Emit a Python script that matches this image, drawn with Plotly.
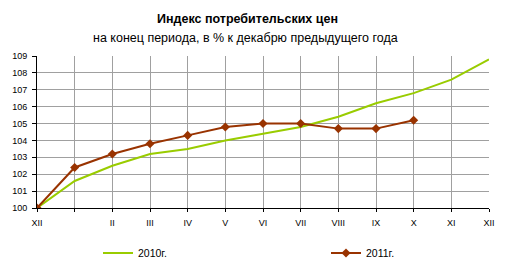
import plotly.graph_objects as go

months = ["XII", "", "II", "III", "IV", "V", "VI", "VII", "VIII", "IX", "X", "XI", "XII"]
cpi_2010 = [100, 101.6, 102.5, 103.2, 103.5, 104.0, 104.4, 104.8, 105.4, 106.2, 106.8, 107.6, 108.8]
cpi_2011 = [100, 102.4, 103.2, 103.8, 104.3, 104.8, 105.0, 105.0, 104.7, 104.7, 105.2]

xs = list(range(len(months)))

W, H = 506, 270
ML, MR, MT, MB = 37, 17, 56, 62
PW, PH = W - ML - MR, H - MT - MB

def px_x(p):
    return (p - ML) / PW

def px_y(p):
    return (H - MB - p) / PH

fig = go.Figure()
fig.add_trace(go.Scatter(x=xs[:len(cpi_2010)], y=cpi_2010, mode="lines", name="2010г.",
                         line=dict(color="#99CC00", width=2), legend="legend"))
fig.add_trace(go.Scatter(x=xs[:len(cpi_2011)], y=cpi_2011, mode="lines+markers", name="2011г.",
                         line=dict(color="#993300", width=2),
                         marker=dict(symbol="diamond", size=7, color="#993300"), legend="legend2"))

leg_common = dict(yanchor="middle", xanchor="left", font=dict(size=10.5), itemwidth=30,
                  bgcolor="rgba(0,0,0,0)")
fig.update_layout(
    width=W, height=H,
    margin=dict(l=ML, r=MR, t=MT, b=MB, autoexpand=False),
    paper_bgcolor="white", plot_bgcolor="white",
    font=dict(family="Liberation Sans, Arial, sans-serif", size=9, color="black"),
    showlegend=True,
    legend=dict(x=px_x(98), y=px_y(253), **leg_common),
    legend2=dict(x=px_x(326), y=px_y(253), **leg_common),
    annotations=[
        dict(text="<b>Индекс потребительских цен</b>", x=px_x(247), y=px_y(19), xref="paper",
             yref="paper", showarrow=False, yanchor="middle", font=dict(size=12.5)),
        dict(text="на конец периода, в % к декабрю предыдущего года", x=px_x(245), y=px_y(38),
             xref="paper", yref="paper", showarrow=False, yanchor="middle", font=dict(size=12.5)),
    ],
)

fig.update_xaxes(range=[0, 12], tickvals=xs, ticktext=months, showgrid=True,
                 gridcolor="#A0A0A0", gridwidth=1, showline=True, linecolor="black",
                 ticks="outside", ticklen=3, tickcolor="black", zeroline=False,
                 tickfont=dict(size=9), automargin=False, ticklabelstandoff=3)
fig.update_yaxes(range=[100, 109], dtick=1, showgrid=True, gridcolor="#A0A0A0",
                 gridwidth=1, showline=True, linecolor="black", ticks="outside",
                 ticklen=4, tickcolor="black", zeroline=False, tickfont=dict(size=9),
                 automargin=False, ticklabelstandoff=3)

fig.write_html("out.html")
